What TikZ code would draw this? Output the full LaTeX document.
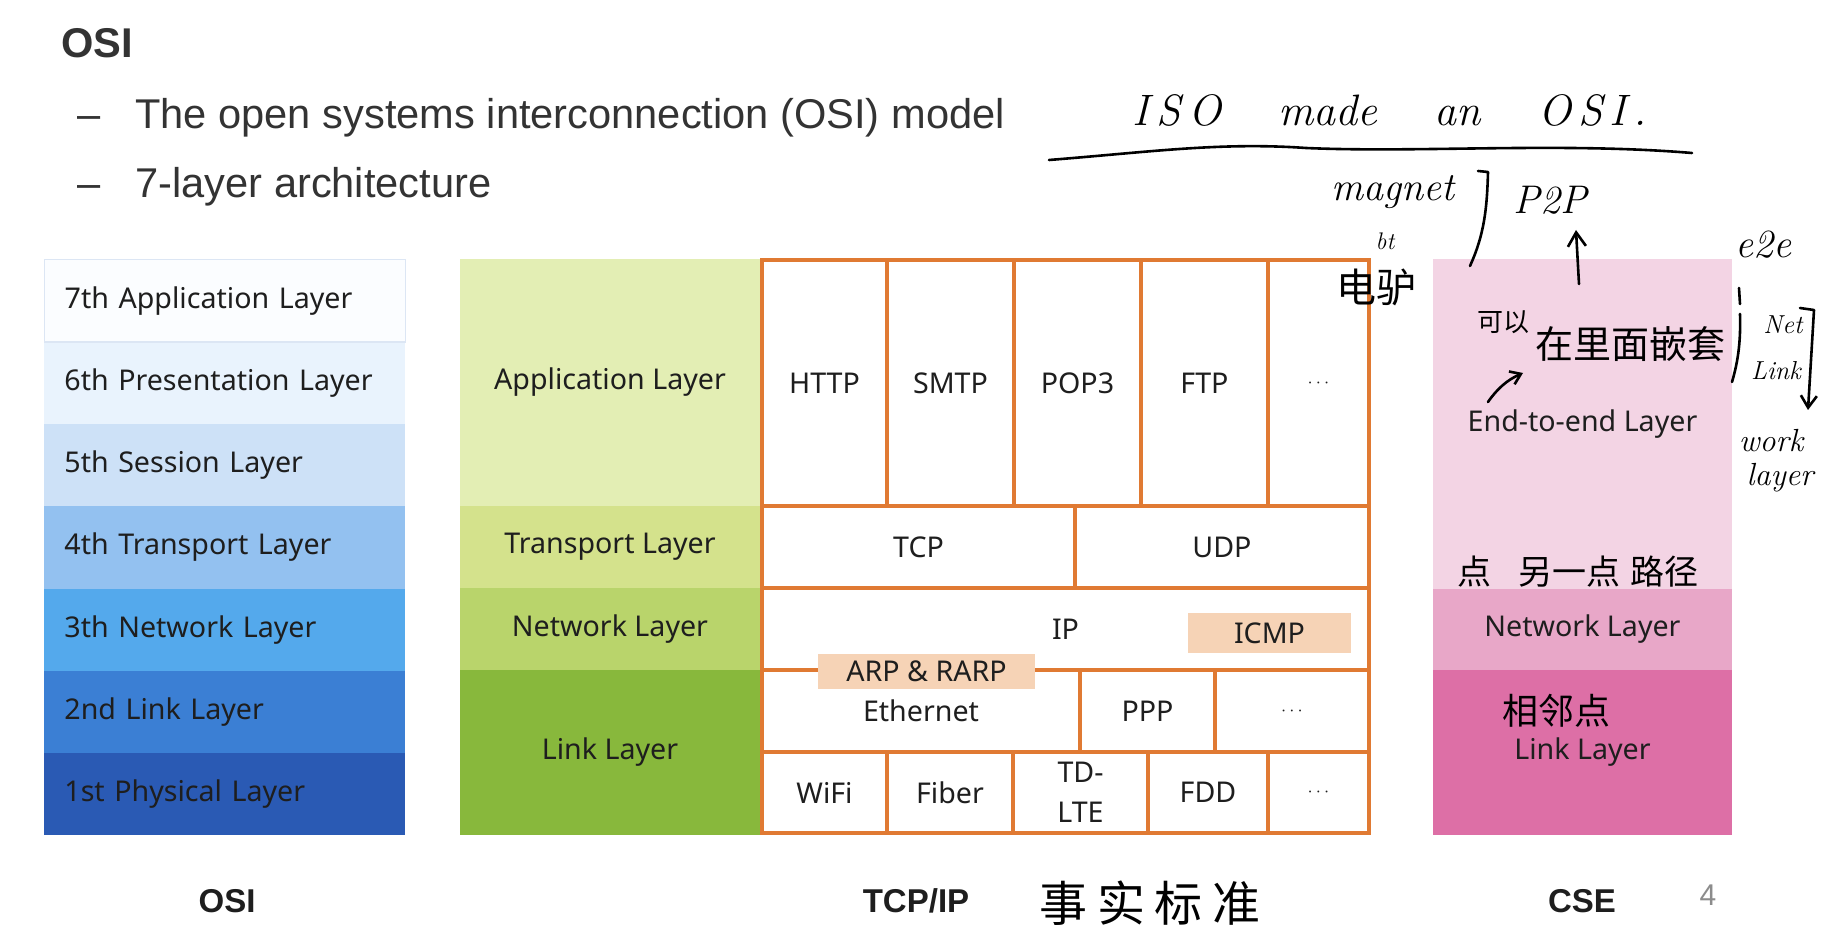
\documentclass[tikz,border=0pt]{standalone}
\usepackage{fontspec}
\newfontfamily\arialf{Liberation Sans}
\newfontfamily\labf{Noto Sans}
\newfontfamily\cjkf{Noto Sans CJK SC}
\usetikzlibrary{arrows.meta}
\definecolor{hdr}{HTML}{333333}
\definecolor{txt}{HTML}{1E1E1E}
\definecolor{osiA}{HTML}{FBFDFF}
\definecolor{osiAb}{HTML}{DCE6F4}
\definecolor{osiB}{HTML}{E9F3FD}
\definecolor{osiC}{HTML}{CDE1F7}
\definecolor{osiD}{HTML}{93C1F0}
\definecolor{osiE}{HTML}{54A9EC}
\definecolor{osiF}{HTML}{3B7FD4}
\definecolor{osiG}{HTML}{2A5AB4}
\definecolor{gA}{HTML}{E3EEB4}
\definecolor{gB}{HTML}{D4E28C}
\definecolor{gC}{HTML}{B9D46B}
\definecolor{gD}{HTML}{88B83C}
\definecolor{cA}{HTML}{F3D4E4}
\definecolor{cB}{HTML}{E8A7C8}
\definecolor{cC}{HTML}{DD6FA6}
\definecolor{orng}{HTML}{E07A33}
\definecolor{peach}{HTML}{F6D3B6}
\definecolor{pgnum}{HTML}{8C8C8C}
\newcommand{\moredots}{{\fontsize{9}{10}\selectfont$\cdots$}}
\tikzset{
  lab/.style={font=\labf\fontsize{14.3}{17}\selectfont, text=txt},
  area/.style n args={4}{at={({(#1+#3)/2},{(#2+#4)/2})}, anchor=center,
      minimum width={(#3-#1)*0.5pt}, minimum height={(#4-#2)*0.5pt}},
  osirow/.style={lab, anchor=north west, minimum width=180.5pt, minimum height=41.14pt, inner xsep=10pt, inner ysep=0pt, text width=160.5pt, align=left},
  band/.style={lab, inner sep=0pt},
  ocell/.style={lab, draw=orng, line width=1.75pt, fill=white, inner sep=0pt, align=center},
  proto/.style={lab, fill=peach, inner sep=0pt},
  hdrtxt/.style={font=\arialf\fontsize{20.8}{25}\selectfont, text=hdr, anchor=base west, inner sep=0pt},
  foot/.style={font=\arialf\bfseries\fontsize{16.5}{20}\selectfont, text=txt, anchor=base, inner sep=0pt},
  hwen/.style={font=\rmfamily\itshape\fontsize{#1}{#1}\selectfont, text=black, inner sep=0pt},
  hwcn/.style={font=\cjkf\fontsize{#1}{#1}\selectfont, text=black, inner sep=0pt},
  stroke/.style={black, line width=1.3pt, line cap=round, line join=round},
}
\begin{document}
\begin{tikzpicture}[x=0.5pt,y=-0.5pt]
\useasboundingbox (0,0) rectangle (1828,940);
\fill[white] (0,0) rectangle (1828,940);

% header
\node[hdrtxt, font=\arialf\bfseries\fontsize{20.8}{25}\selectfont] (title) at (61,58) {OSI};
\node[hdrtxt] (dash1) at (77,129) {–};
\node[hdrtxt] (b1) at (135,129) {The open systems interconnection (OSI) model};
\node[hdrtxt] (dash2) at (77,198) {–};
\node[hdrtxt] (b2) at (135,198) {7-layer architecture};

% OSI column
\node[osirow, fill=osiB] (o6) at (44,341.29) {6th Presentation Layer};
\node[osirow, fill=osiC] (o5) at (44,423.57) {5th Session Layer};
\node[osirow, fill=osiD] (o4) at (44,505.86) {4th Transport Layer};
\node[osirow, fill=osiE] (o3) at (44,588.14) {3th Network Layer};
\node[osirow, fill=osiF] (o2) at (44,670.43) {2nd Link Layer};
\node[osirow, fill=osiG] (o1) at (44,752.71) {1st Physical Layer};
\node[osirow, fill=osiA, draw=osiAb, line width=0.7pt] (o7) at (44,259) {7th Application Layer};

% TCP/IP green column
\node[band, fill=gA, area={460}{259}{760}{506}] (tApp) {Application Layer};
\node[band, fill=gB, area={460}{506}{760}{588}] (tTr) {Transport Layer};
\node[band, fill=gC, area={460}{588}{760}{670}] (tNet) {Network Layer};
\node[band, fill=gD, area={460}{670}{760}{835}] (tLink) {Link Layer};

% orange protocol grid
\node[ocell, area={762}{260}{887}{506}] (http) {HTTP};
\node[ocell, area={887}{260}{1014}{506}] (smtp) {SMTP};
\node[ocell, area={1014}{260}{1141}{506}] (pop) {POP3};
\node[ocell, area={1141}{260}{1268}{506}] (ftp) {FTP};
\node[ocell, area={1268}{260}{1369}{506}] (appmore) {\moredots};
\node[ocell, area={762}{506}{1075}{588}] (tcp) {TCP};
\node[ocell, area={1075}{506}{1369}{588}] (udp) {UDP};
\node[ocell, area={762}{588}{1369}{670}] (ip) {IP};
\node[ocell, area={762}{670}{1080}{752}] (eth) {Ethernet};
\node[ocell, area={1080}{670}{1215}{752}] (ppp) {PPP};
\node[ocell, area={1215}{670}{1369}{752}] (l1more) {\moredots};
\node[ocell, area={762}{752}{887}{833}] (wifi) {WiFi};
\node[ocell, area={887}{752}{1013}{833}] (fiber) {Fiber};
\node[ocell, area={1013}{752}{1148}{833}, font=\labf\fontsize{14.3}{20}\selectfont] (tdlte) {TD-\\LTE};
\node[ocell, area={1148}{752}{1268}{833}] (fdd) {FDD};
\node[ocell, area={1268}{752}{1369}{833}] (l2more) {\moredots};
\node[proto, area={1188}{613}{1351}{653}] (icmp) {ICMP};
\node[proto, area={818}{654}{1035}{689}] (arp) {ARP \& RARP};

% CSE column
\node[band, fill=cA, area={1433}{259}{1732}{589}] (cE) {End-to-end Layer};
\node[band, fill=cB, area={1433}{589}{1732}{670}] (cN) {Network Layer};
\node[band, fill=cC, area={1433}{670}{1732}{835}] (cL) {Link Layer};

% footer
\node[foot] (fOSI) at (227,913) {OSI};
\node[foot] (fTCP) at (916,913) {TCP/IP};
\node[foot] (fCSE) at (1582,913) {CSE};
\node[font=\arialf\fontsize{15}{18}\selectfont, text=pgnum, anchor=base, inner sep=0pt] (pg) at (1708,906) {4};

% handwritten annotations
\node[hwen=22] (iso) at (1390,110) {I\,S\,O\hspace{1.3em}made\hspace{1.3em}an\hspace{1.3em}O\,S\,I\,.};
\draw[stroke] (1049,160) .. controls (1150,152) and (1220,142) .. (1306,148) .. controls (1420,153) and (1560,142) .. (1692,153);
\node[hwen=20] (mag) at (1393,192) {magnet};
\draw[stroke] (1478,171) -- (1488,172) .. controls (1487,210) and (1484,235) .. (1470,266);
\node[hwen=20] (p2p) at (1550,200) {P2P};
\draw[stroke, -{Straight Barb[length=7pt,width=9pt]}] (1579,284) -- (1576,230);
\node[hwen=12] (bt) at (1385,241) {bt};
\node[hwcn=20] (edonkey) at (1376,287) {电驴};
\node[hwen=20] (e2e) at (1763,245) {e2e};
\node[hwcn=13] (keyi) at (1503,322) {可以};
\node[hwcn=19] (nest) at (1630,344) {在里面嵌套};
\draw[stroke, -{Straight Barb[length=5pt,width=7pt]}] (1488,402) .. controls (1497,389) and (1507,380) .. (1523,373);
\draw[stroke] (1739,288) -- (1740,304);
\draw[stroke] (1740,314) .. controls (1741,345) and (1737,365) .. (1732,382);
\node[hwen=13] (net) at (1783,325) {Net};
\node[hwen=13] (link) at (1776,371) {Link};
\draw[stroke, -{Straight Barb[length=6pt,width=8pt]}] (1800,308) -- (1814,310) -- (1808,410);
\node[hwen=16] (work) at (1771,441) {work};
\node[hwen=16] (layer) at (1780,478) {layer};
\node[hwcn=17] (path) at (1578,572) {点\hspace{0.8em}另一点\hspace{0.3em}路径};
\node[hwcn=18] (adj) at (1556,711) {相邻点};
\node[hwcn=24] (defacto) at (1150,903) {事\hspace{0.2em}实\hspace{0.2em}标\hspace{0.2em}准};
\end{tikzpicture}
\end{document}
